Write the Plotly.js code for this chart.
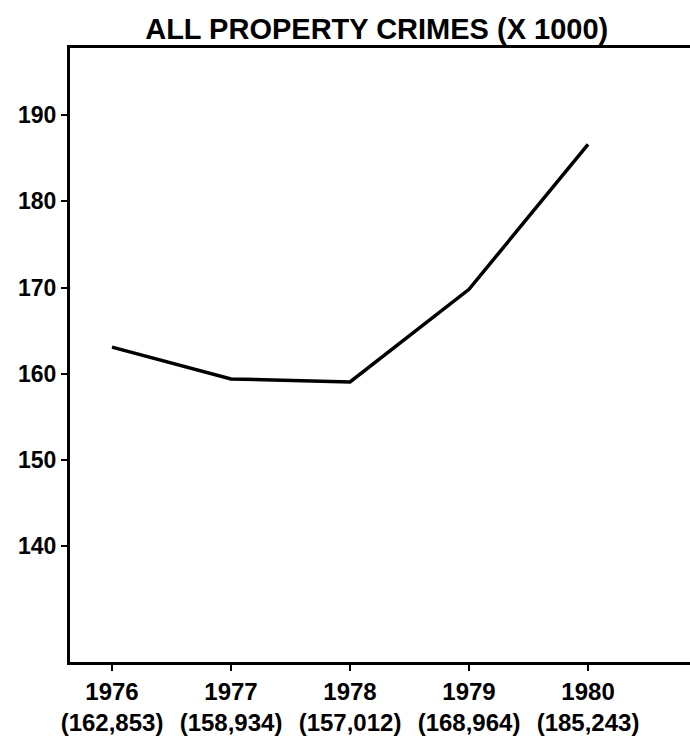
<!DOCTYPE html>
<html>
<head>
<meta charset="utf-8">
<script src="https://cdn.plot.ly/plotly-3.0.1.min.js"></script>
<style>
html,body{margin:0;padding:0;background:#fff;}
#chart{width:690px;height:741px;}
</style>
</head>
<body>
<div id="chart"></div>
<script>
// Data
const years = [1976, 1977, 1978, 1979, 1980];
const reportedCounts = ["162,853", "158,934", "157,012", "168,964", "185,243"];
// values (thousands) as drawn by the line in the picture
const plottedValues = [163.1, 159.4, 159.05, 169.8, 186.6];
const yTicks = [140, 150, 160, 170, 180, 190];

const tickText = years.map((y, i) => y + "<br>(" + reportedCounts[i] + ")");

const trace = {
  x: years,
  y: plottedValues,
  type: "scatter",
  mode: "lines",
  line: {color: "#000", width: 3.5},
  hoverinfo: "skip"
};

const fontFam = "'Liberation Sans', Arial, Helvetica, sans-serif";

const layout = {
  width: 690,
  height: 741,
  paper_bgcolor: "#fff",
  plot_bgcolor: "#fff",
  showlegend: false,
  margin: {l: 70, r: 0, t: 48, b: 79},
  title: {
    text: "ALL PROPERTY CRIMES (X 1000)",
    font: {family: fontFam, size: 29, color: "#000", weight: 700},
    x: 0.546, xref: "container", xanchor: "center",
    y: 1 - 29/741, yref: "container", yanchor: "middle"
  },
  xaxis: {
    range: [1975.647, 1980.857],
    tickvals: years,
    ticktext: tickText,
    ticks: "outside",
    ticklen: 6,
    tickwidth: 2,
    tickcolor: "#000",
    showline: true,
    mirror: true,
    linecolor: "#000",
    linewidth: 3,
    showgrid: false,
    zeroline: false,
    tickfont: {family: fontFam, size: 24, color: "#000", weight: 700}
  },
  yaxis: {
    range: [126.58, 197.78],
    tickvals: yTicks,
    ticks: "outside",
    ticklen: 6,
    tickwidth: 2,
    tickcolor: "#000",
    showline: true,
    linecolor: "#000",
    linewidth: 3,
    showgrid: false,
    zeroline: false,
    tickfont: {family: fontFam, size: 23, color: "#000", weight: 700}
  }
};

Plotly.newPlot("chart", [trace], layout, {displayModeBar: false, staticPlot: true});
</script>
</body>
</html>
